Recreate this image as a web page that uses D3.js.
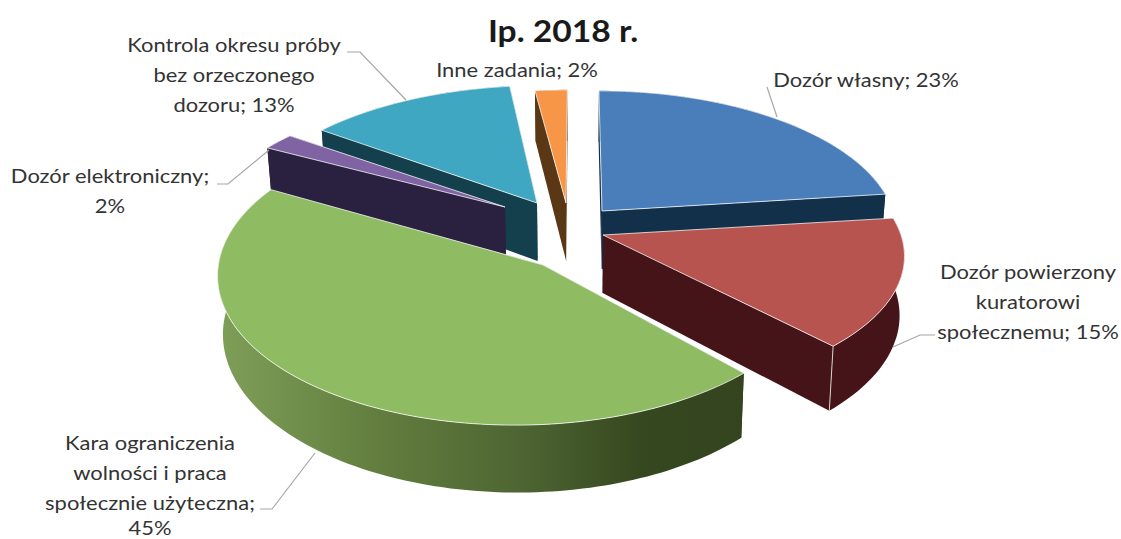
<!DOCTYPE html>
<html><head><meta charset="utf-8">
<script src="https://cdn.jsdelivr.net/npm/d3@7"></script>
<style>html,body{margin:0;background:#fff}svg{display:block}text{font-family:Lato,sans-serif;fill:#333}</style>
</head><body><svg id="c" width="1121" height="539"></svg>
<script>
// data
const categories = ["Dozór własny","Dozór powierzony kuratorowi społecznemu","Kara ograniczenia wolności i praca społecznie użyteczna","Dozór elektroniczny","Kontrola okresu próby bez orzeczonego dozoru","Inne zadania"];
const shares = [23,15,45,2,13,2];
const labelLines = [["Dozór własny; 23%"],["Dozór powierzony","kuratorowi","społecznemu; 15%"],["Kara ograniczenia","wolności i praca","społecznie użyteczna;","45%"],["Dozór elektroniczny;","2%"],["Kontrola okresu próby","bez orzeczonego","dozoru; 13%"],["Inne zadania; 2%"]];
const title = "Ip. 2018 r.";
// style / layout
const topColors  = ["#4a7ebb","#b85450","#8fbb63","#7f63a2","#3fa7c1","#f79646"];
const sideColors = ["#13304a","#451418","#344620","#2a2040","#14404d","#5a3815"];
const center = [569,237], vanishX = 577, depthPersp = 0.14, depth = 58, lowShrink = 0.015;
const sliceDX = [33,34,-26,-64,-32,-3], sliceDY = [-26,-2,28,-30,-34,-34];
const sliceRx = [291,298,296,295,292,294], sliceRy = [137,137,150,131,134,129];
const slicePersp = [0.14,0.14,0.06,0.14,0.14,0.14], sliceLean = [0,0,0.08,0,0,0];
const paintOrder = [4,5,0,3,1,2];
const labelX = [866,1028,150,110,234,517];
const labelY = [[87],[279,309,339],[450,480,510,535],[183,213],[52,82,112],[77]];
const leaders = [[[767,87],[777,117]],[[935,335],[920,335],[893,347]],[[260,509],[272,509],[315,453]],[[217,184],[228,184],[269,150]],[[347,52],[360,52],[406,100]]];
const textStretch = 1.12;

const svg = d3.select("#c");
const arcs = d3.pie().sort(null).startAngle(0).endAngle(2*Math.PI)(shares);
const line = d3.line();

function project(i, th, r, low){
  const u = r*Math.sin(th), v = r*Math.cos(th);
  const d = 1 + slicePersp[i]*v + sliceLean[i]*u;
  const ax = center[0]+sliceDX[i], ay = center[1]+sliceDY[i];
  let x = ax + sliceRx[i]*u/d + (ax-vanishX)*(1/d-1);
  if(low) x -= (x-vanishX)*lowShrink;
  return [x, ay - sliceRy[i]*v/d + (low ? depth/(1+depthPersp*v) : 0)];
}
function arcPts(i,a,low){
  const n = Math.max(4,Math.ceil((a.endAngle-a.startAngle)*40));
  return d3.range(n+1).map(k=>project(i,a.startAngle+(a.endAngle-a.startAngle)*k/n,1,low));
}
const defs = svg.append("defs");
const grad = defs.append("linearGradient").attr("id","greenSide").attr("gradientUnits","userSpaceOnUse")
  .attr("x1",215).attr("x2",746).attr("y1",0).attr("y2",0);
[[0,"#7fa059"],[0.31,"#627d3e"],[0.57,"#4e6633"],[0.8,"#36481f"],[1,"#33441f"]].forEach(s=>grad.append("stop").attr("offset",s[0]).attr("stop-color",s[1]));

paintOrder.forEach(i=>{
  const a = arcs[i], g = svg.append("g");
  const side = i===2 ? "url(#greenSide)" : sideColors[i];
  const wall = (th)=>[project(i,th,0,false),project(i,th,1,false),project(i,th,1,true),project(i,th,0,true)];
  [a.startAngle,a.endAngle].forEach(th=>g.append("path").attr("d",line(wall(th))+"Z").attr("fill",sideColors[i]));
  const up = arcPts(i,a,false), lo = arcPts(i,a,true).reverse();
  g.append("path").attr("d",line(up.concat(lo))+"Z").attr("fill",side);
  if(i===1) g.append("path").attr("d",line([project(i,a.endAngle,1,false),project(i,a.endAngle,1,true)])).attr("stroke","#d9d0d0").attr("stroke-width",1).attr("fill","none");
  g.append("path").attr("d",line([project(i,0,0,false)].concat(up))+"Z").attr("fill",topColors[i])
    .attr("stroke","#fff").attr("stroke-opacity",0.75).attr("stroke-width",1).attr("stroke-linejoin","round");
});

leaders.forEach(p=>svg.append("path").attr("d",line(p)).attr("fill","none").attr("stroke","#a6a6a6").attr("stroke-width",1.2));

svg.append("text").attr("transform",`translate(563,42) scale(${textStretch},1)`).attr("text-anchor","middle").attr("font-size",30).attr("font-weight",700).style("fill","#1a1a1a").text(title);
labelLines.forEach((ls,i)=>ls.forEach((s,j)=>svg.append("text").attr("transform",`translate(${labelX[i]},${labelY[i][j]}) scale(${textStretch},1)`).attr("text-anchor","middle").attr("font-size",19.6).text(s)));
</script></body></html>
